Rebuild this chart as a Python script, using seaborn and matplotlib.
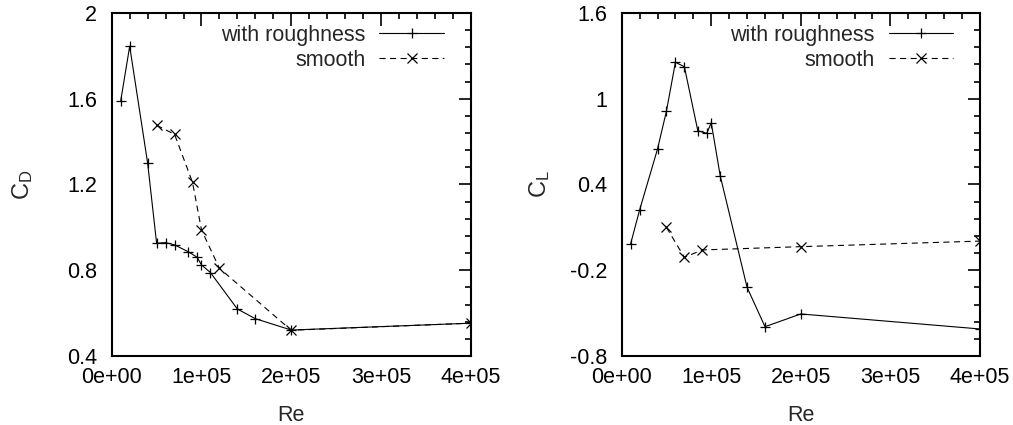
import numpy as np
import matplotlib
matplotlib.use("Agg")
import matplotlib.pyplot as plt
import seaborn as sns
from matplotlib.ticker import MultipleLocator, FuncFormatter

# Drag coefficient data
re_cd_rough = [1e4, 2e4, 4e4, 5e4, 6e4, 7e4, 8.5e4, 9.5e4, 1e5, 1.1e5, 1.4e5, 1.6e5, 2e5, 4e5]
cd_rough = [1.59, 1.845, 1.30, 0.926, 0.929, 0.918, 0.887, 0.861, 0.825, 0.789, 0.619, 0.574, 0.521, 0.553]
re_cd_smooth = [5e4, 7e4, 9e4, 1e5, 1.2e5, 2e5, 4e5]
cd_smooth = [1.476, 1.434, 1.21, 0.988, 0.809, 0.52, 0.553]

# Lift coefficient data
re_cl_rough = [1e4, 2e4, 4e4, 5e4, 6e4, 7e4, 8.5e4, 9.5e4, 1e5, 1.1e5, 1.4e5, 1.6e5, 2e5, 4e5]
cl_rough = [-0.015, 0.221, 0.648, 0.914, 1.255, 1.224, 0.776, 0.758, 0.832, 0.461, -0.32, -0.595, -0.506, -0.611]
re_cl_smooth = [5e4, 7e4, 9e4, 2e5, 4e5]
cl_smooth = [0.10, -0.11, -0.058, -0.035, 0.004]

sns.set_style("white")
plt.rcParams['font.family'] = ['Liberation Sans', 'DejaVu Sans']
plt.rcParams['mathtext.default'] = 'regular'
plt.rcParams['font.size'] = 15.5

fig = plt.figure(figsize=(10.13, 4.25), dpi=100)
ax1 = fig.add_axes([0.1103, 0.1624, 0.3544, 0.807])
ax2 = fig.add_axes([0.6137, 0.1624, 0.3537, 0.807])


def draw(ax, xr, yr, xs, ys):
    sns.lineplot(x=xr, y=yr, ax=ax, color='k', lw=0.8, marker='+', ms=7,
                 markeredgecolor='k', markeredgewidth=0.9, label='with roughness')
    sns.lineplot(x=xs, y=ys, ax=ax, color='k', lw=0.8, marker='x', ms=7,
                 markeredgecolor='k', markeredgewidth=0.9, dashes=False,
                 linestyle=(0, (5.5, 4)), label='smooth')


draw(ax1, re_cd_rough, cd_rough, re_cd_smooth, cd_smooth)
draw(ax2, re_cl_rough, cl_rough, re_cl_smooth, cl_smooth)

ax1.set_ylim(0.4, 2.0)
ax1.yaxis.set_major_locator(MultipleLocator(0.4))
ax1.yaxis.set_minor_locator(MultipleLocator(0.08))
ax2.set_ylim(-0.8, 1.6)
ax2.yaxis.set_major_locator(MultipleLocator(0.6, offset=0.4))
ax2.yaxis.set_minor_locator(MultipleLocator(0.12, offset=0.04))

ylabels = ['C$_D$', 'C$_L$']
for ax, lab, lx in zip([ax1, ax2], ylabels, [-0.215, -0.195]):
    ax.set_xlim(0, 4e5)
    ax.xaxis.set_major_locator(MultipleLocator(1e5))
    ax.xaxis.set_minor_locator(MultipleLocator(2e4))
    ax.xaxis.set_major_formatter(FuncFormatter(lambda v, p: f'{v:.0e}'))
    ax.yaxis.set_major_formatter(FuncFormatter(lambda v, p: f'{round(v, 2) + 0:g}'))
    ax.tick_params(which='both', direction='in', top=True, right=True,
                   colors='k', labelsize=15.5)
    ax.tick_params(which='major', length=9, width=1.2)
    ax.tick_params(which='minor', length=4.5, width=1.2)
    ax.tick_params(axis='y', pad=10.5)
    ax.tick_params(axis='x', pad=8)
    for s in ax.spines.values():
        s.set_linewidth(1.5)
        s.set_color('k')
    ax.set_xlabel('Re', fontsize=15.5)
    ax.set_ylabel(lab, fontsize=17)
    ax.xaxis.set_label_coords(0.5, -0.143)
    ax.yaxis.set_label_coords(lx, 0.5)
    ax.legend(loc='upper right', bbox_to_anchor=(0.925, 0.965), frameon=False,
              markerfirst=False, handlelength=3, handletextpad=0.65,
              labelspacing=0.18, borderpad=0, borderaxespad=0, fontsize=15.5)

fig.savefig('out.png', dpi=100)
